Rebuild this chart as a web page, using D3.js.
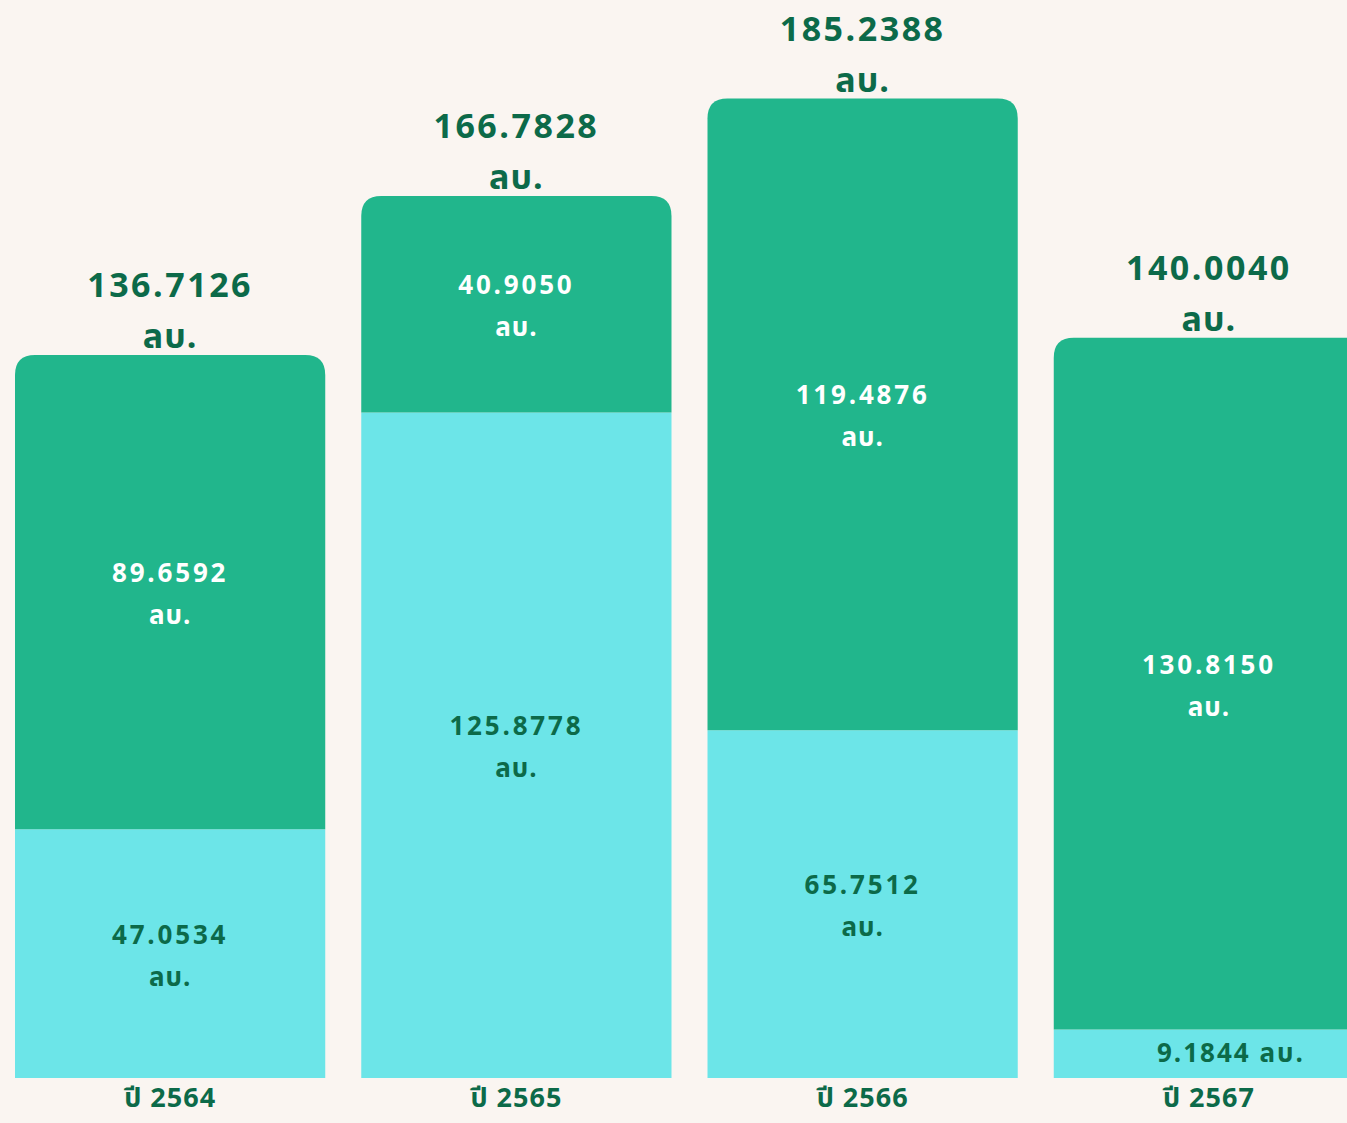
<!DOCTYPE html>
<html>
<head>
<meta charset="utf-8">
<script src="https://cdn.jsdelivr.net/npm/d3@7"></script>
<style>
  body { margin: 0; background: #faf5f1; }
  svg { display: block; }
  text { font-family: "Noto Sans Thai", "Noto Sans", Roboto, sans-serif; font-weight: 700; }
</style>
</head>
<body>
<script>
// data (unit: ลบ.)
var years = ["ปี 2564", "ปี 2565", "ปี 2566", "ปี 2567"];
var lowerVals = [47.0534, 125.8778, 65.7512, 9.1844];   // light cyan part
var upperVals = [89.6592, 40.9050, 119.4876, 130.8150]; // green part
var totals = ["136.7126", "166.7828", "185.2388", "140.0040"];
var lowerText = ["47.0534", "125.8778", "65.7512", "9.1844"];
var upperText = ["89.6592", "40.9050", "119.4876", "130.8150"];
var unit = "ลบ.";

var width = 1347, height = 1123;
var darkGreen = "#0c6a49", green = "#21b68c", cyan = "#6ce5e8";

var rows = years.map(function(y, i) {
    return {year: y, lower: lowerVals[i], upper: upperVals[i], i: i};
});

var stacked = d3.stack().keys(["lower", "upper"])(rows);

var x = d3.scaleBand()
    .domain(years)
    .range([15, 1364])
    .paddingInner(0.104)
    .paddingOuter(0);

var y = d3.scaleLinear()
    .domain([0, 185.2388])
    .range([1078, 98.5]);

var svg = d3.select("body").append("svg")
    .attr("width", width)
    .attr("height", height);

// bar with only the top corners rounded
function topRounded(x0, y0, w, h, r) {
    r = Math.min(r, h);
    return "M" + x0 + "," + (y0 + h) +
        "V" + (y0 + r) +
        "Q" + x0 + "," + y0 + " " + (x0 + r) + "," + y0 +
        "H" + (x0 + w - r) +
        "Q" + (x0 + w) + "," + y0 + " " + (x0 + w) + "," + (y0 + r) +
        "V" + (y0 + h) + "Z";
}

var colors = {lower: cyan, upper: green};

stacked.forEach(function(layer) {
    svg.append("g").selectAll("path")
        .data(layer)
        .enter().append("path")
        .attr("fill", colors[layer.key])
        .attr("d", function(d) {
            var x0 = x(d.data.year), w = x.bandwidth();
            var top = y(d[1]), bot = y(d[0]);
            if (layer.key == "upper") return topRounded(x0, top, w, bot - top, 20);
            return "M" + x0 + "," + top + "H" + (x0 + w) + "V" + bot + "H" + x0 + "Z";
        });
});

// value labels inside segments
stacked.forEach(function(layer) {
    var texts = layer.key == "lower" ? lowerText : upperText;
    var fill = layer.key == "lower" ? darkGreen : "#ffffff";
    var g = svg.append("g").selectAll("g")
        .data(layer)
        .enter().append("g")
        .attr("transform", function(d) {
            var cx = x(d.data.year) + x.bandwidth() / 2;
            var cy = (y(d[0]) + y(d[1])) / 2;
            return "translate(" + cx + "," + cy + ")";
        });
    g.each(function(d) {
        var el = d3.select(this);
        var h = y(d[0]) - y(d[1]);
        var t = texts[d.data.i];
        if (h < 80) { // too thin for two lines
            el.append("text").attr("text-anchor", "middle").attr("dy", "0.3em")
                .attr("x", 22)
                .attr("font-size", 26).attr("fill", fill).attr("letter-spacing", 2)
                .text(t + " " + unit);
        } else {
            el.append("text").attr("text-anchor", "middle").attr("y", -10)
                .attr("font-size", 26).attr("fill", fill).attr("letter-spacing", 2.8)
                .text(t);
            el.append("text").attr("text-anchor", "middle").attr("y", 32)
                .attr("font-size", 26).attr("fill", fill).attr("letter-spacing", 1)
                .text(unit);
        }
    });
});

// totals above the bars
var tot = svg.append("g").selectAll("g")
    .data(rows)
    .enter().append("g")
    .attr("transform", function(d) {
        return "translate(" + (x(d.year) + x.bandwidth() / 2) + "," + y(d.lower + d.upper) + ")";
    });
tot.append("text")
    .attr("text-anchor", "middle").attr("y", -58)
    .attr("font-size", 34).attr("fill", darkGreen).attr("letter-spacing", 2.5)
    .text(function(d) { return totals[d.i]; });
tot.append("text")
    .attr("text-anchor", "middle").attr("y", -7)
    .attr("font-size", 34).attr("fill", darkGreen).attr("letter-spacing", 1)
    .text(unit);

// year labels
svg.append("g").selectAll("text")
    .data(years)
    .enter().append("text")
    .attr("x", function(d) { return x(d) + x.bandwidth() / 2; })
    .attr("y", 1107)
    .attr("text-anchor", "middle")
    .attr("font-size", 27)
    .attr("fill", darkGreen)
    .attr("letter-spacing", 1)
    .text(function(d) { return d; });
</script>
</body>
</html>
